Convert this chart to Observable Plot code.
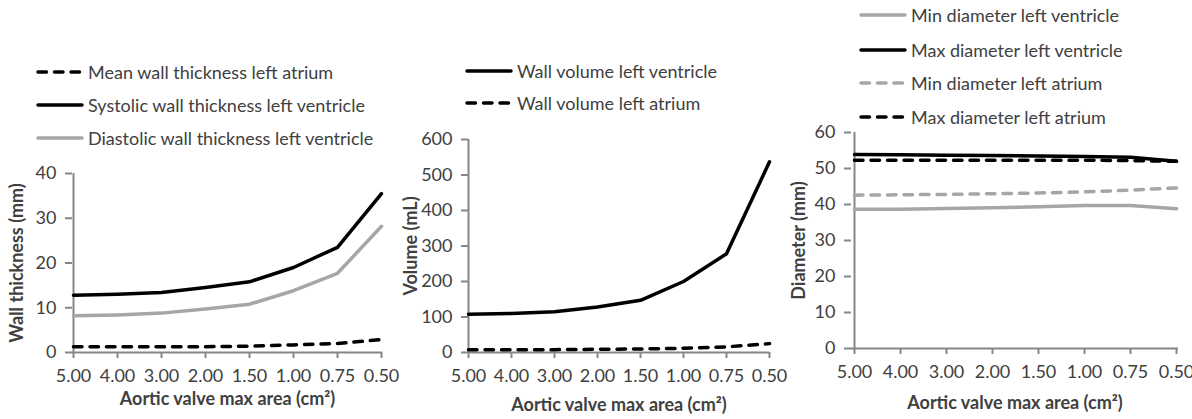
<!DOCTYPE html>
<html>
<head>
<meta charset="utf-8">
<script src="https://cdn.jsdelivr.net/npm/d3@7"></script>
<script src="https://cdn.jsdelivr.net/npm/@observablehq/plot@0.6"></script>
<style>
  html, body { margin: 0; padding: 0; background: #fff; overflow: hidden; }
  #chart { position: relative; width: 1192px; height: 419px; overflow: hidden; font-family: Lato, sans-serif; color: #404040; }
  .panel { position: absolute; }
  .panel svg { overflow: hidden; }
  .panel [aria-label$="axis label"] { font-weight: bold; }
  .legend-row { position: absolute; height: 22px; display: flex; align-items: center; white-space: nowrap; font-size: 18px; }
  .legend-row svg { display: block; flex: none; }
  .legend-row span { margin-left: 4px; }
</style>
</head>
<body>
<div id="chart"></div>
<script>
// Aortic valve maximum area, from mild to severe stenosis
const areaLabels = ["5.00", "4.00", "3.00", "2.00", "1.50", "1.00", "0.75", "0.50"];

// Wall thickness (mm)
const meanWallLA      = [1.3, 1.3, 1.3, 1.3, 1.4, 1.7, 2.0, 2.9];
const systolicWallLV  = [12.8, 13.0, 13.4, 14.5, 15.8, 19.0, 23.5, 35.5];
const diastolicWallLV = [8.2, 8.4, 8.8, 9.7, 10.8, 13.8, 17.7, 28.2];

// Wall volume (mL)
const wallVolumeLV = [108, 110, 115, 128, 147, 200, 278, 537];
const wallVolumeLA = [8, 8, 8, 9, 10, 12, 16, 25];

// Chamber diameter (mm)
const minDiameterLV = [38.7, 38.7, 38.9, 39.1, 39.4, 39.7, 39.7, 38.8];
const maxDiameterLV = [53.9, 53.8, 53.7, 53.6, 53.5, 53.3, 53.1, 52.0];
const minDiameterLA = [42.6, 42.7, 42.8, 43.0, 43.2, 43.5, 44.0, 44.6];
const maxDiameterLA = [52.3, 52.3, 52.3, 52.3, 52.3, 52.3, 52.2, 52.0];

const xTitle = "Aortic valve max area (cm²)";

const BLACK = "#000000";
const GREY = "#a6a6a6";
const AXIS = "#868686";
const LINE_W = 3.5;
const DASH = "8.5,8";

const panels = [
  {
    left: 0, top: 150, width: 400, height: 269,
    margin: {left: 72, right: 18, top: 23, bottom: 67},
    yMax: 40, yTicks: [0, 10, 20, 30, 40], yLabel: "Wall thickness (mm)", yLabelOffset: 62, xLabelOffset: 52,
    series: [
      {name: "Mean wall thickness left atrium", values: meanWallLA, color: BLACK, dashed: true},
      {name: "Systolic wall thickness left ventricle", values: systolicWallLV, color: BLACK, dashed: false},
      {name: "Diastolic wall thickness left ventricle", values: diastolicWallLV, color: GREY, dashed: false}
    ],
    legend: {x: 36, rows: [71.7, 105, 138]}
  },
  {
    left: 395, top: 120, width: 400, height: 299,
    margin: {left: 73, right: 26, top: 19, bottom: 67},
    yMax: 600, yTicks: [0, 100, 200, 300, 400, 500, 600], yLabel: "Volume (mL)", yLabelOffset: 64, xLabelOffset: 58,
    series: [
      {name: "Wall volume left ventricle", values: wallVolumeLV, color: BLACK, dashed: false},
      {name: "Wall volume left atrium", values: wallVolumeLA, color: BLACK, dashed: true}
    ],
    legend: {x: 465, rows: [70.7, 103.3]}
  },
  {
    left: 780, top: 115, width: 412, height: 304,
    margin: {left: 71, right: 14, top: 17, bottom: 71},
    yMax: 60, yTicks: [0, 10, 20, 30, 40, 50, 60], yLabel: "Diameter (mm)", yLabelOffset: 59, xLabelOffset: 60,
    series: [
      {name: "Min diameter left ventricle", values: minDiameterLV, color: GREY, dashed: false},
      {name: "Max diameter left ventricle", values: maxDiameterLV, color: BLACK, dashed: false},
      {name: "Min diameter left atrium", values: minDiameterLA, color: GREY, dashed: true},
      {name: "Max diameter left atrium", values: maxDiameterLA, color: BLACK, dashed: true}
    ],
    legend: {x: 859, rows: [15, 50, 83, 117]}
  }
];

const chart = document.getElementById("chart");

for (const p of panels) {
  const lineMarks = p.series.map(s =>
    Plot.lineY(areaLabels.map((a, i) => ({area: a, value: s.values[i]})), {
      x: "area", y: "value",
      stroke: s.color, strokeWidth: LINE_W,
      strokeDasharray: s.dashed ? DASH : null,
      strokeLinecap: "round", strokeLinejoin: "round"
    })
  );

  const plot = Plot.plot({
    width: p.width,
    height: p.height,
    marginLeft: p.margin.left,
    marginRight: p.margin.right,
    marginTop: p.margin.top,
    marginBottom: p.margin.bottom,
    style: {fontFamily: "Lato, sans-serif", fontSize: "18px", color: "#404040", background: "transparent"},
    x: {type: "point", domain: areaLabels, padding: 0},
    y: {domain: [0, p.yMax]},
    marks: [
      Plot.axisY({
        ticks: p.yTicks, tickFormat: d => String(d),
        tickSize: 7, tickPadding: 9, stroke: AXIS, strokeWidth: 2,
        label: p.yLabel, labelAnchor: "center", labelOffset: p.yLabelOffset, labelArrow: "none"
      }),
      Plot.axisX({
        tickSize: 6, tickPadding: 11, stroke: AXIS, strokeWidth: 2,
        label: xTitle, labelAnchor: "center", labelOffset: p.xLabelOffset, labelArrow: "none"
      }),
      Plot.ruleX([areaLabels[0]], {stroke: AXIS, strokeWidth: 2}),
      Plot.ruleY([0], {stroke: AXIS, strokeWidth: 2}),
      ...lineMarks
    ]
  });

  const holder = document.createElement("div");
  holder.className = "panel";
  holder.style.left = p.left + "px";
  holder.style.top = p.top + "px";
  holder.appendChild(plot);
  chart.appendChild(holder);

  // Legend: one row per series, stacked above the plot
  p.series.forEach((s, i) => {
    const row = document.createElement("div");
    row.className = "legend-row";
    row.style.left = p.legend.x + "px";
    row.style.top = (p.legend.rows[i] - 11) + "px";
    const sw = d3.create("svg").attr("width", 48).attr("height", 10);
    sw.append("line")
      .attr("x1", 2).attr("x2", 46).attr("y1", 5).attr("y2", 5)
      .attr("stroke", s.color).attr("stroke-width", LINE_W)
      .attr("stroke-linecap", "round")
      .attr("stroke-dasharray", s.dashed ? DASH : null);
    row.appendChild(sw.node());
    const label = document.createElement("span");
    label.textContent = s.name;
    row.appendChild(label);
    chart.appendChild(row);
  });
}
</script>
</body>
</html>
